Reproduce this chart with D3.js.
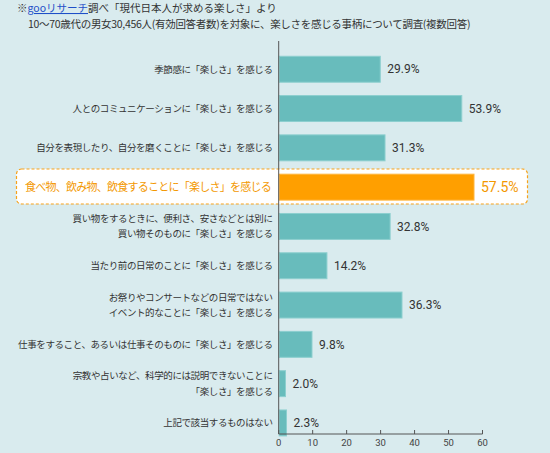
<!DOCTYPE html>
<html>
<head>
<meta charset="utf-8">
<script src="https://cdn.jsdelivr.net/npm/d3@7"></script>
<style>
  html, body { margin: 0; padding: 0; background: #d9ebee; }
  svg { display: block; font-family: "Noto Sans CJK JP", sans-serif; }
</style>
</head>
<body>
<svg id="chart" width="550" height="453"></svg>
<script>
const categories = [
  '季節感に「楽しさ」を感じる',
  '人とのコミュニケーションに「楽しさ」を感じる',
  '自分を表現したり、自分を磨くことに「楽しさ」を感じる',
  '食べ物、飲み物、飲食することに「楽しさ」を感じる',
  '買い物をするときに、便利さ、安さなどとは別に\n買い物そのものに「楽しさ」を感じる',
  '当たり前の日常のことに「楽しさ」を感じる',
  'お祭りやコンサートなどの日常ではない\nイベント的なことに「楽しさ」を感じる',
  '仕事をすること、あるいは仕事そのものに「楽しさ」を感じる',
  '宗教や占いなど、科学的には説明できないことに\n「楽しさ」を感じる',
  '上記で該当するものはない',
];
const values = [29.9, 53.9, 31.3, 57.5, 32.8, 14.2, 36.3, 9.8, 2.0, 2.3];
const highlight = 3;
const xTicks = [0, 10, 20, 30, 40, 50, 60];

const svg = d3.select('#chart');
const axisX = 278.7;
const axisTop = 41;
const axisBottom = 434;

const x = d3.scaleLinear().domain([0, 60]).range([axisX, 482.5]);
const y = d3.scaleBand()
  .domain(d3.range(categories.length))
  .range([49.6, 442.6])
  .paddingInner(0.34)
  .paddingOuter(0.17);

// heading
const head = svg.append('g').attr('fill', '#333');
const l1 = head.append('text').attr('x', 17).attr('y', 12).attr('font-size', 10.5);
l1.append('tspan').text('※');
l1.append('tspan').attr('fill', '#1f4fc8').attr('text-decoration', 'underline').text('gooリサーチ');
l1.append('tspan').text('調べ「現代日本人が求める楽しさ」より');
head.append('text').attr('x', 28).attr('y', 28)
  .attr('font-size', 10.5)
  .attr('letter-spacing', -0.3)
  .text('10～70歳代の男女30,456人(有効回答者数)を対象に、楽しさを感じる事柄について調査(複数回答)');

// highlight box
svg.append('rect')
  .attr('x', 16.5).attr('y', 169)
  .attr('width', 511).attr('height', 35)
  .attr('rx', 5)
  .attr('fill', '#fff')
  .attr('stroke', '#f7a21b')
  .attr('stroke-width', 1.2)
  .attr('stroke-dasharray', '3,2');

// bars
svg.append('g').selectAll('rect')
  .data(values)
  .join('rect')
  .attr('x', x(0) + 0.5)
  .attr('y', (d, i) => y(i))
  .attr('width', (d) => x(d) - x(0) - 0.5)
  .attr('height', y.bandwidth())
  .attr('fill', (d, i) => (i === highlight ? '#ff9f00' : '#68bcbc'))
  .attr('stroke', (d, i) => (i === highlight ? '#ffb640' : '#8ccfcf'))
  .attr('stroke-width', 1);

// value labels
svg.append('g').selectAll('text')
  .data(values)
  .join('text')
  .attr('x', (d) => x(d) + 7)
  .attr('y', (d, i) => y(i) + y.bandwidth() / 2)
  .attr('dy', '0.35em')
  .attr('font-family', 'Roboto, "DejaVu Sans", sans-serif')
  .attr('font-size', (d, i) => (i === highlight ? 14 : 12))
  .attr('fill', (d, i) => (i === highlight ? '#f39800' : '#333'))
  .text((d) => `${d.toFixed(1)}%`);

// category labels
const labels = svg.append('g').selectAll('text')
  .data(categories)
  .join('text')
  .attr('text-anchor', 'end')
  .attr('x', (d, i) => (i === highlight ? 271 : 272.5))
  .attr('y', (d, i) => y(i) + y.bandwidth() / 2)
  .attr('font-size', (d, i) => (i === highlight ? 11 : 9.5))
  .attr('letter-spacing', (d, i) => (i === highlight ? -0.75 : -0.4))
  .attr('fill', (d, i) => (i === highlight ? '#f39800' : '#333'));

labels.each(function (d) {
  const lines = d.split('\n');
  const t = d3.select(this);
  lines.forEach((line, k) => {
    t.append('tspan')
      .attr('x', t.attr('x'))
      .attr('dy', k === 0 ? `${0.35 - (lines.length - 1) * 0.8}em` : '1.6em')
      .text(line);
  });
});

// axes
const xAxis = svg.append('g').attr('transform', `translate(0,${axisBottom})`);
xAxis.append('line')
  .attr('x1', axisX).attr('x2', x(60))
  .attr('stroke', '#555');
xAxis.selectAll('.tk')
  .data(xTicks)
  .join('line')
  .attr('x1', (d) => x(d)).attr('x2', (d) => x(d))
  .attr('y1', 0).attr('y2', -4)
  .attr('stroke', '#555');
xAxis.selectAll('text')
  .data(xTicks)
  .join('text')
  .attr('x', (d) => x(d))
  .attr('y', 12)
  .attr('text-anchor', 'middle')
  .attr('font-family', 'Roboto, "DejaVu Sans", sans-serif')
  .attr('font-size', 9.5)
  .attr('fill', '#444')
  .text((d) => d);

svg.append('line')
  .attr('x1', axisX).attr('x2', axisX)
  .attr('y1', axisTop).attr('y2', axisBottom)
  .attr('stroke', '#555');
</script>
</body>
</html>
